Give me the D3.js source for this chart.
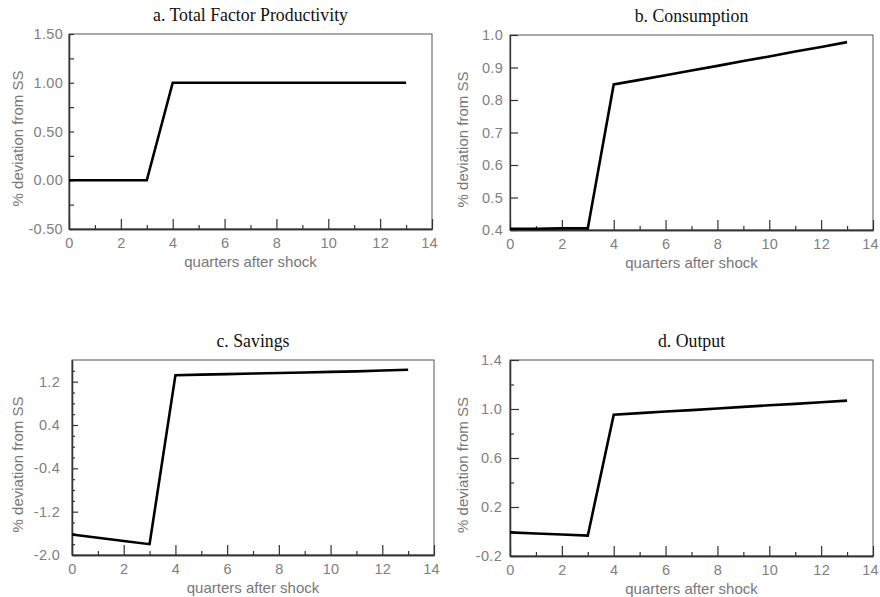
<!DOCTYPE html>
<html>
<head>
<meta charset="utf-8">
<script src="https://cdn.jsdelivr.net/npm/d3@7"></script>
<style>
  body { margin: 0; background: #fff; }
  .tick text { font-family: "Liberation Sans", Arial, sans-serif; font-size: 14.5px; letter-spacing: 0.3px; }
  .axis-title { font-family: "Liberation Sans", Arial, sans-serif; font-size: 15px; fill: #777; }
  .panel-title { font-family: "Liberation Serif", "Times New Roman", serif; font-size: 17.8px; fill: #111; }
</style>
</head>
<body>
<div id="chart"></div>
<script>
// data
var quarters = [0, 1, 2, 3, 4, 5, 6, 7, 8, 9, 10, 11, 12, 13];
var tfp = [0, 0, 0, 0, 1, 1, 1, 1, 1, 1, 1, 1, 1, 1];
var consumption = [0.404, 0.404, 0.405, 0.405, 0.848, 0.862, 0.876, 0.891, 0.905, 0.920, 0.934, 0.949, 0.963, 0.978];
var savings = [-1.62, -1.68, -1.74, -1.80, 1.32, 1.33, 1.34, 1.35, 1.36, 1.37, 1.38, 1.39, 1.405, 1.42];
var output = [-0.007, -0.016, -0.025, -0.034, 0.953, 0.966, 0.979, 0.991, 1.004, 1.017, 1.030, 1.042, 1.055, 1.068];

var xTicks = [0, 2, 4, 6, 8, 10, 12, 14];
var xMinor = [1, 3, 5, 7, 9, 11, 13];
var tfpTicks = [-0.5, 0, 0.5, 1.0, 1.5];
var tfpMinor = [-0.25, 0.25, 0.75, 1.25];
var consTicks = [0.4, 0.5, 0.6, 0.7, 0.8, 0.9, 1.0];
var savTicks = [-2.0, -1.2, -0.4, 0.4, 1.2];
var savMinor = [-1.8, -1.6, -1.4, -1.0, -0.8, -0.6, -0.2, 0.0, 0.2, 0.6, 0.8, 1.0, 1.4];
var outTicks = [-0.2, 0.2, 0.6, 1.0, 1.4];
var outMinor = [0.0, 0.4, 0.8, 1.2];

// plain hyphen for negatives, like the original
function fixed(n) {
    return d => d.toFixed(n);
}

var panels = [
  {title: "a. Total Factor Productivity", values: tfp, domain: [-0.5, 1.5], ticks: tfpTicks, minor: tfpMinor,
   fmt: fixed(2), box: [69, 432, 34, 229], pad: 6, major: 5, minorLen: 5},
  {title: "b. Consumption", values: consumption, domain: [0.4, 1.0], ticks: consTicks, minor: [],
   fmt: fixed(1), box: [510, 873, 35, 230], pad: 7, major: 8, minorLen: 0},
  {title: "c. Savings", values: savings, domain: [-2.0, 1.6], ticks: savTicks, minor: savMinor,
   fmt: fixed(1), box: [72, 434, 360, 555], pad: 12, major: 6, minorLen: 3},
  {title: "d. Output", values: output, domain: [-0.2, 1.4], ticks: outTicks, minor: outMinor,
   fmt: fixed(1), box: [510, 873, 360, 556], pad: 8, major: 9, minorLen: 4}
];

var svg = d3.select("#chart")
    .append("svg")
    .attr("width", 880)
    .attr("height", 597);

panels.forEach(function(p) {
    var x0 = p.box[0], x1 = p.box[1], y0 = p.box[2], y1 = p.box[3];
    var w = x1 - x0, h = y1 - y0;

    var g = svg.append("g").attr("transform", `translate(${x0},${y0})`);

    var x = d3.scaleLinear().domain([0, 14]).range([0, w]);
    var y = d3.scaleLinear().domain(p.domain).range([h, 0]);

    // frame
    g.append("rect")
        .attr("width", w).attr("height", h)
        .attr("fill", "none").attr("stroke", "#555").attr("stroke-width", 1);

    // x axis, ticks pointing in
    var xAxis = g.append("g")
        .attr("transform", `translate(0,${h})`)
        .call(d3.axisBottom(x).tickValues(xTicks).tickSizeInner(-10).tickSizeOuter(0).tickPadding(9));
    xAxis.selectAll(".tick text").filter(d => d === 14).attr("dx", -3);
    g.append("g")
        .attr("transform", `translate(0,${h})`)
        .call(d3.axisBottom(x).tickValues(xMinor).tickSizeInner(-4).tickSizeOuter(0).tickFormat(""));

    // y axis
    g.append("g")
        .call(d3.axisLeft(y).tickValues(p.ticks).tickSizeInner(-p.major).tickSizeOuter(0)
            .tickPadding(p.pad).tickFormat(p.fmt));
    if (p.minor.length) {
        g.append("g")
            .call(d3.axisLeft(y).tickValues(p.minor).tickSizeInner(-p.minorLen).tickSizeOuter(0).tickFormat(""));
    }

    g.selectAll(".domain").attr("stroke", "#333").attr("stroke-width", 1.3);
    g.selectAll(".tick line").attr("stroke", "#333").attr("stroke-width", 1.2);
    g.selectAll(".tick text").attr("fill", "#808080");

    // the response line
    var line = d3.line()
        .x((d, i) => x(quarters[i]))
        .y(d => y(d));
    g.append("path")
        .datum(p.values)
        .attr("d", line)
        .attr("fill", "none")
        .attr("stroke", "#000")
        .attr("stroke-width", 2.6);

    // titles
    g.append("text")
        .attr("class", "panel-title")
        .attr("x", w / 2).attr("y", -13)
        .attr("text-anchor", "middle")
        .text(p.title);

    g.append("text")
        .attr("class", "axis-title")
        .attr("x", w / 2).attr("y", h + 38)
        .attr("text-anchor", "middle")
        .text("quarters after shock");

    g.append("text")
        .attr("class", "axis-title")
        .attr("transform", `translate(${(x0 < 300 ? 23 : 468) - x0},${h / 2 + 7}) rotate(-90)`)
        .attr("text-anchor", "middle")
        .text("% deviation from SS");
});
</script>
</body>
</html>
